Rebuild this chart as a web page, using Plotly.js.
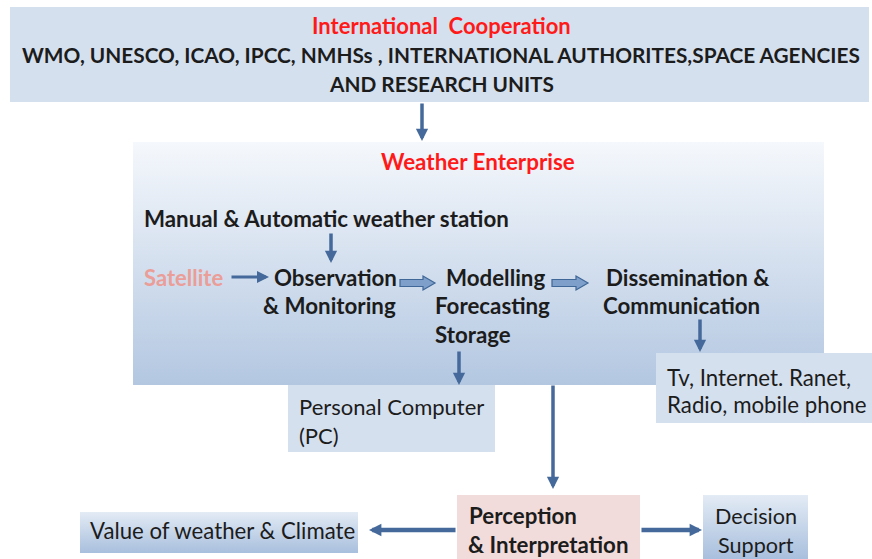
<!DOCTYPE html>
<html><head><meta charset="utf-8">
<script src="https://cdn.plot.ly/plotly-3.0.1.min.js"></script>
<style>html,body{margin:0;padding:0;background:#fff}#c{width:872px;height:559px}</style>
</head><body><div id="c"></div>
<script>
// ---- content (text) ----
const headerTitle = "International  Cooperation";
const headerLines = ["WMO, UNESCO, ICAO, IPCC, NMHSs , INTERNATIONAL AUTHORITES,SPACE AGENCIES", "AND RESEARCH UNITS"];
const enterpriseTitle = "Weather Enterprise";
const stationLabel = "Manual & Automatic weather station";
const satelliteLabel = "Satellite";
const chainLabels = [["Observation", "& Monitoring"], ["Modelling", "Forecasting", "Storage"], ["Dissemination &", "Communication"]];
const mediaLines = ["Tv, Internet. Ranet,", "Radio, mobile phone"];
const pcLines = ["Personal Computer", "(PC)"];
const perceptionLines = ["Perception", "& Interpretation"];
const valueLabel = "Value of weather & Climate";
const decisionLines = ["Decision", "Support"];

// ---- layout geometry ----
const FONT = "Lato, 'Open Sans', sans-serif";
const ARROW = "#44699a";
const INK = "#1c1c1c";
const LS = 22.3;
const annotations = [];
function txt(t, x, y, opt) {
  opt = opt || {};
  annotations.push({text: t, x: x, y: y, xref: 'x', yref: 'y', showarrow: false,
    xanchor: opt.xa || 'left', yanchor: 'middle',
    font: {family: FONT, size: opt.size || LS, color: opt.color || INK, weight: opt.weight === undefined ? 700 : opt.weight}});
}
function arrow(x0, y0, x1, y1, w, s) {
  annotations.push({x: x1, y: y1, ax: x0, ay: y0, xref: 'x', yref: 'y', axref: 'x', ayref: 'y',
    text: '', showarrow: true, arrowhead: 2, arrowsize: s || 0.7, arrowwidth: w || 3.5, arrowcolor: ARROW});
}

txt(headerTitle, 441, 25.5, {xa: 'center', color: '#ff1a1a', size: 22});
txt(headerLines[0], 441, 54.5, {xa: 'center', size: 20.8});
txt(headerLines[1], 441, 83.5, {xa: 'center', size: 20.8});
txt(enterpriseTitle, 478, 161.5, {xa: 'center', color: '#ff1a1a', size: 22.4});
txt(stationLabel, 142, 218.5);
txt(satelliteLabel, 142, 277.5, {color: '#eb9d98', size: 22});
txt(chainLabels[0][0], 272, 277.5); txt(chainLabels[0][1], 261, 305.5);
txt(chainLabels[1][0], 444, 277.5); txt(chainLabels[1][1], 433, 305.5); txt(chainLabels[1][2], 433, 334.5);
txt(chainLabels[2][0], 604, 277.5); txt(chainLabels[2][1], 601, 305.5);
txt(mediaLines[0], 665, 377, {weight: 400}); txt(mediaLines[1], 665, 404, {weight: 400});
txt(pcLines[0], 297, 406.5, {weight: 400, size: 22}); txt(pcLines[1], 297, 435.5, {weight: 400, size: 22});
txt(perceptionLines[0], 467, 515.5); txt(perceptionLines[1], 466, 544.5);
txt(valueLabel, 88, 530.5, {weight: 400, size: 22.2});
txt(decisionLines[0], 756, 515.5, {xa: 'center', weight: 400, size: 21.6}); txt(decisionLines[1], 756, 544.5, {xa: 'center', weight: 400, size: 21.6});

arrow(422, 102, 422, 141);
arrow(331, 232, 331, 263);
arrow(230, 277, 269, 277, 3, 0.8);
arrow(700, 318, 700, 352);
arrow(459, 350, 459, 385);
arrow(553, 384, 553, 489);
arrow(457, 530, 369, 530, 4.5, 0.55);
arrow(640, 530, 702, 530, 4.5, 0.55);

function blockArrow(x0, x1, yc) {
  const hb = 3.5, hh = 7, hl = 12;
  return {type: 'path', xref: 'x', yref: 'y', layer: 'above',
    path: `M${x0},${yc-hb} L${x1-hl},${yc-hb} L${x1-hl},${yc-hh} L${x1},${yc} L${x1-hl},${yc+hh} L${x1-hl},${yc+hb} L${x0},${yc+hb} Z`,
    fillcolor: '#7f9fcb', line: {color: '#3f6797', width: 1.2}};
}
function rect(x0, y0, x1, y1, fill) {
  return {type: 'rect', xref: 'x', yref: 'y', x0: x0, x1: x1, y0: y0, y1: y1, fillcolor: fill, line: {width: 0}, layer: 'above'};
}
const shapes = [
  rect(10, 7, 869, 102, '#d5e0ee'),
  rect(288, 385, 495, 452, '#d5e0ee'),
  rect(656, 353, 872, 423, '#d5e0ee'),
  rect(457, 495, 640, 559, '#f2dcdb'),
  blockArrow(400, 435, 283),
  blockArrow(552, 588, 283)
];
function gradBox(x0, y0, x1, y1, top, bottom) {
  return {type: 'scatter', mode: 'none', x: [x0, x1, x1, x0, x0], y: [y0, y0, y1, y1, y0], fill: 'toself',
    fillgradient: {type: 'vertical', start: y0, stop: y1, colorscale: [[0, top], [1, bottom]]},
    hoverinfo: 'skip', showlegend: false};
}
const traces = [
  gradBox(133, 142, 824, 385, '#f5f8fc', '#b3c7e1'),
  gradBox(80, 512, 358, 553, '#e3ebf5', '#a8bfdd'),
  gradBox(703, 495, 808, 559, '#e3ebf5', '#a8bfdd')
];
const layout = {width: 872, height: 559, margin: {l: 0, r: 0, t: 0, b: 0},
  paper_bgcolor: '#fff', plot_bgcolor: '#fff',
  xaxis: {range: [0, 872], visible: false, fixedrange: true},
  yaxis: {range: [559, 0], visible: false, fixedrange: true},
  shapes: shapes, annotations: annotations, showlegend: false};
Plotly.newPlot('c', traces, layout, {displayModeBar: false, staticPlot: true});
</script></body></html>
